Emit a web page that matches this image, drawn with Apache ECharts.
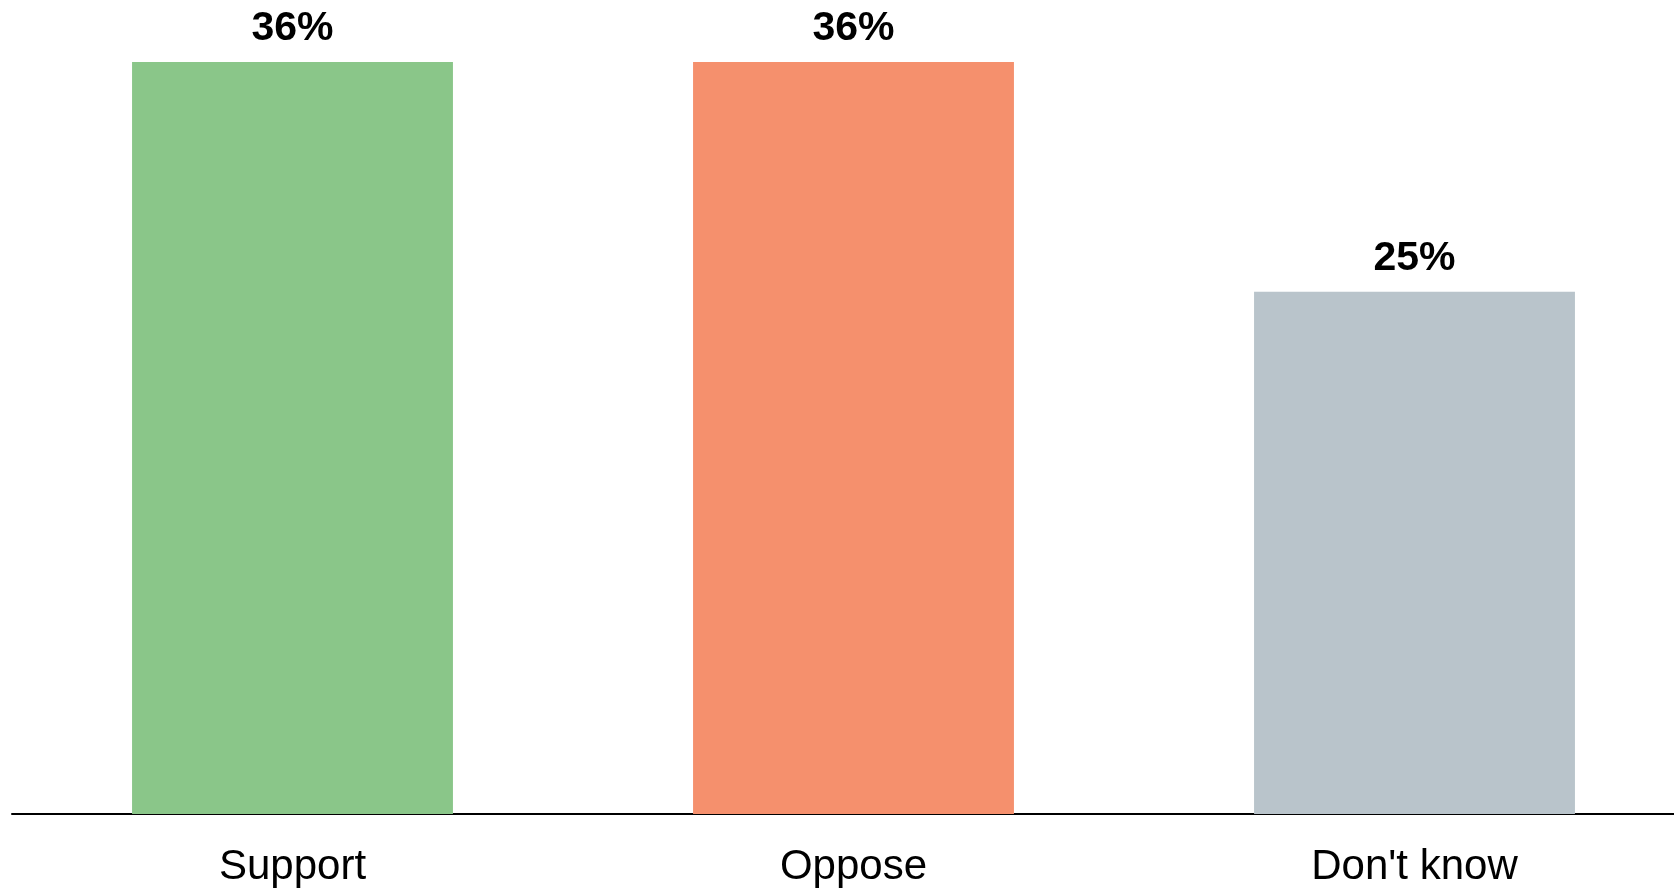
<!DOCTYPE html>
<html><head><meta charset="utf-8">
<style>html,body{margin:0;padding:0;background:#fff;overflow:hidden;width:1674px;height:889px}#c{width:1695px;height:889px}</style>
<script src="https://cdn.jsdelivr.net/npm/echarts@6/dist/echarts.min.js"></script>
</head><body><div id="c"></div>
<script>
const categories = ["Support", "Oppose", "Don't know"];
const values = [36, 36, 25];
const colors = ["#8AC689", "#F5906D", "#B9C4CB"];

const chart = echarts.init(document.getElementById('c'), null, {renderer: 'canvas'});
chart.setOption({
  animation: false,
  backgroundColor: '#fff',
  grid: {left: 12, top: 62, right: 0, bottom: 75, containLabel: false},
  xAxis: {
    type: 'category', data: categories,
    axisLine: {show: true, lineStyle: {color: '#000', width: 2}},
    axisTick: {show: false},
    axisLabel: {color: '#000', fontSize: 42, fontFamily: 'Liberation Sans, Arial, sans-serif', margin: 32}
  },
  yAxis: {type: 'value', min: 0, max: 36, show: false, splitLine: {show: false}},
  series: [{
    type: 'bar', barWidth: '57.2%',
    data: values.map((v, i) => ({value: v, itemStyle: {color: colors[i]}})),
    label: {show: true, position: 'top', distance: 13, formatter: p => p.value + '%',
      color: '#000', fontSize: 41, fontWeight: 'bold', fontFamily: 'Liberation Sans, Arial, sans-serif'}
  }]
});
</script></body></html>
